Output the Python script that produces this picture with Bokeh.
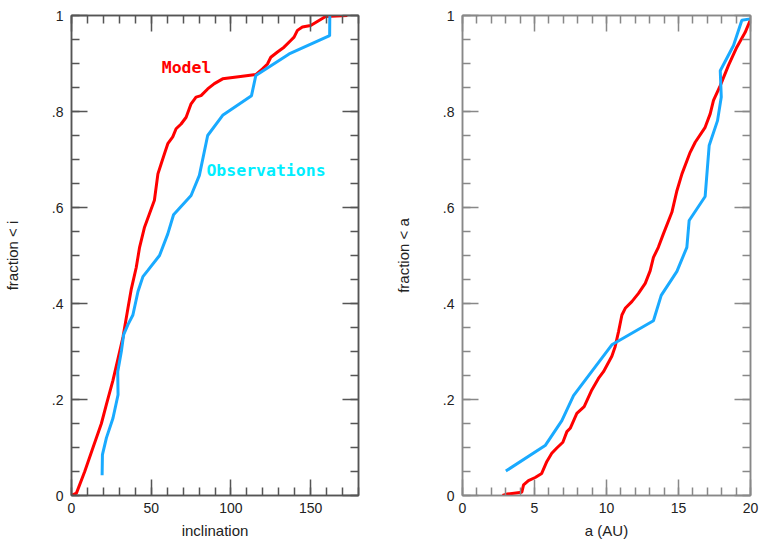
from bokeh.plotting import figure
from bokeh.layouts import row
from bokeh.models import Range1d, SingleIntervalTicker, LinearAxis, CustomJSTickFormatter
from bokeh.core.properties import value
from bokeh.embed import file_html
from bokeh.resources import INLINE

# ---- data: left panel (inclination) ----
model_incl = [0, 3.1, 8.3, 13.5, 18.75, 21.9, 26, 30.2, 32.3, 35.4, 37.5, 40.6, 42.7, 45.8, 48.9,
              52, 54.2, 56.25, 58.3, 60.4, 63.5, 65.6, 68.75, 71.9, 75, 78.1, 81.25, 85.4, 89.6,
              94.8, 106, 115.6, 119.8, 122.9, 125, 129.2, 133.3, 137.5, 139.6, 141.7, 144.8, 150,
              159.4, 173]
model_incl_frac = [0, 0.005, 0.05, 0.1, 0.15, 0.19, 0.24, 0.30, 0.33, 0.39, 0.43, 0.475, 0.517,
                   0.559, 0.587, 0.615, 0.67, 0.691, 0.712, 0.733, 0.747, 0.764, 0.774, 0.788,
                   0.816, 0.830, 0.833, 0.847, 0.858, 0.868, 0.873, 0.877, 0.889, 0.899, 0.913,
                   0.924, 0.934, 0.948, 0.955, 0.969, 0.976, 0.979, 0.998, 1.0]
obs_incl = [19.2, 19.4, 21.9, 26, 29.2, 29, 31.25, 32.7, 35.4, 38.5, 41.7, 44.8, 47.9, 55.2,
            60.4, 64, 75, 80.2, 85.4, 94.8, 112.9, 115.6, 136.5, 161.9, 162]
obs_incl_frac = [0.042, 0.085, 0.12, 0.161, 0.21, 0.258, 0.30, 0.335, 0.356, 0.376, 0.425, 0.456,
                 0.469, 0.5, 0.545, 0.585, 0.625, 0.667, 0.75, 0.792, 0.833, 0.875, 0.92, 0.958, 1.0]

# ---- data: right panel (semimajor axis) ----
model_a = [2.78, 3.08, 4.12, 4.24, 4.58, 5.05, 5.5, 5.86, 6.2, 6.55, 6.97, 7.25, 7.48, 7.94, 8.45,
           8.98, 9.44, 9.79, 10.37, 10.6, 10.84, 11.07, 11.3, 11.76, 12.22, 12.69, 13.03, 13.26,
           13.6, 13.95, 14.54, 14.89, 15.24, 15.81, 16.16, 16.85, 17.2, 17.43, 17.9, 18.47, 19.05,
           19.63, 19.98]
model_a_frac = [0, 0.003, 0.007, 0.022, 0.031, 0.0375, 0.046, 0.071, 0.088, 0.099, 0.111, 0.133,
                0.14, 0.171, 0.185, 0.220, 0.244, 0.258, 0.29, 0.31, 0.342, 0.376, 0.39, 0.404,
                0.421, 0.442, 0.468, 0.496, 0.517, 0.545, 0.590, 0.635, 0.670, 0.715, 0.736, 0.767,
                0.795, 0.823, 0.854, 0.896, 0.934, 0.965, 0.99]
obs_a = [3.01, 5.74, 6.9, 7.71, 10.37, 13.26, 13.8, 14.89, 15.58, 15.74, 16.85, 17.13, 17.71,
         17.97, 17.9, 18.82, 19.4, 19.98]
obs_a_frac = [0.051, 0.104, 0.156, 0.208, 0.314, 0.364, 0.417, 0.467, 0.517, 0.573, 0.623, 0.729,
              0.781, 0.830, 0.885, 0.9375, 0.99, 0.993]

legend_labels = ["Model", "Observations"]

RED = "#ff0000"
BLUE = "#19aaff"
CYAN = "#00eeff"
FONT = "Liberation Sans"

yfmt = CustomJSTickFormatter(code="""
const v = Math.round(tick*10)/10;
if (v === 0) return '0';
if (v === 1) return '1';
return v.toString().replace(/^0\\./, '.');
""")
blank = CustomJSTickFormatter(code="return '';")


def style_axis(ax, color, labels=True):
    ax.axis_line_color = color
    ax.axis_line_width = 1.5
    ax.major_tick_line_color = color
    ax.minor_tick_line_color = color
    ax.major_tick_line_width = 1.5
    ax.minor_tick_line_width = 1.5
    ax.major_tick_in = 16
    ax.major_tick_out = 0
    ax.minor_tick_in = 8
    ax.minor_tick_out = 0
    if labels:
        ax.major_label_text_font = FONT
        ax.major_label_text_font_size = "14px"
        ax.major_label_text_color = "#222222"
        ax.axis_label_text_font = FONT
        ax.axis_label_text_font_size = "15px"
        ax.axis_label_text_font_style = "normal"
        ax.axis_label_text_color = "#222222"
    else:
        ax.formatter = blank
        ax.major_label_text_font_size = "0px"
        ax.major_label_standoff = 0


def make_panel(width, left, right, xmax, xint, xlabel, ylabel, color):
    p = figure(width=width, height=542, x_range=Range1d(0, xmax), y_range=Range1d(0, 1),
               output_backend="svg", toolbar_location=None,
               min_border_left=left, min_border_right=right,
               min_border_top=15, min_border_bottom=47)
    p.xgrid.visible = False
    p.ygrid.visible = False
    p.outline_line_color = color
    p.outline_line_width = 1.5
    xt = SingleIntervalTicker(interval=xint, num_minor_ticks=5)
    yt = SingleIntervalTicker(interval=0.2, num_minor_ticks=4)
    p.xaxis.ticker = xt
    p.yaxis.ticker = yt
    p.yaxis.formatter = yfmt
    p.xaxis.axis_label = xlabel
    p.yaxis.axis_label = ylabel
    for ax in p.xaxis:
        style_axis(ax, color)
        ax.major_label_standoff = 7
        ax.axis_label_standoff = 6
    for ax in p.yaxis:
        style_axis(ax, color)
        ax.major_label_standoff = 8
        ax.axis_label_standoff = 28
    top = LinearAxis(ticker=SingleIntervalTicker(interval=xint, num_minor_ticks=5))
    style_axis(top, color, labels=False)
    p.add_layout(top, "above")
    rgt = LinearAxis(ticker=SingleIntervalTicker(interval=0.2, num_minor_ticks=4))
    style_axis(rgt, color, labels=False)
    p.add_layout(rgt, "right")
    return p


p1 = make_panel(380, 70, 22, 180, 50, "inclination", "fraction < i", "#555555")
p1.line(model_incl, model_incl_frac, line_color=RED, line_width=3)
p1.line(obs_incl, obs_incl_frac, line_color=BLUE, line_width=3)
p1.text(x=[56.6], y=[0.892], text=[legend_labels[0]], text_color=RED,
        text_font=value("DejaVu Sans Mono"), text_font_style="bold",
        text_font_size="16.5px", text_baseline="middle", text_align="left")
p1.text(x=[84.6], y=[0.677], text=[legend_labels[1]], text_color=CYAN,
        text_font=value("DejaVu Sans Mono"), text_font_style="bold",
        text_font_size="16.5px", text_baseline="middle", text_align="left")

p2 = make_panel(381, 82, 11, 20, 5, "a (AU)", "fraction < a", "#888888")
p2.line(model_a, model_a_frac, line_color=RED, line_width=3)
p2.line(obs_a, obs_a_frac, line_color=BLUE, line_width=3)

layout = row(p1, p2)
open("out.html", "w").write(file_html(layout, INLINE))
